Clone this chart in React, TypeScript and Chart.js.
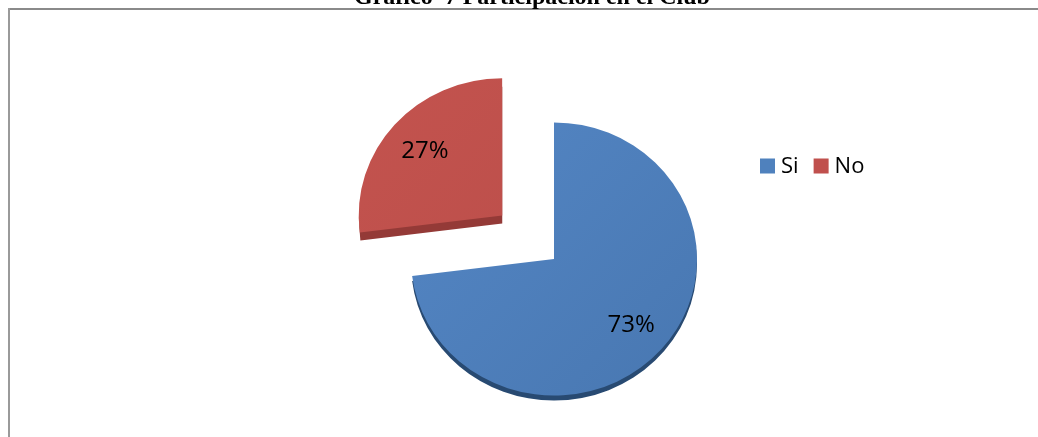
import React, { useEffect, useRef } from "react";
import { Chart, registerables } from "chart.js";

Chart.register(...registerables);

const TITLE = "Gráfico  7 Participación en el Club";
const categories = ["Si", "No"];
const values = [73, 27];
const percentLabels = ["73%", "27%"];
const sliceColors = ["#4f81bd", "#c0504d"];
const gradientLight = ["#5689c8", "#c5544f"];
const gradientDark = ["#4877b1", "#b94d49"];
const edgeColors = ["#284a72", "#943a37"];
const explodeOffsets = [0, 276];
const depths = [5, 8];

const TILT = 0.955;
const LABEL_FONT = "'Open Sans', 'Noto Sans', sans-serif";
const TITLE_FONT = "bold 24px 'Liberation Serif', 'Times New Roman', serif";

const pie3d = {
  id: "pie3d",
  beforeDraw(chart: any) {
    const ctx = chart.ctx as CanvasRenderingContext2D;
    const w = chart.width;
    const h = chart.height;
    ctx.save();
    ctx.fillStyle = "#fff";
    ctx.fillRect(0, 0, w, h);
    ctx.fillStyle = "#8a8a8a";
    ctx.fillRect(8, 8, w - 8, 2);
    ctx.fillStyle = "#9a9a9a";
    ctx.fillRect(8, 8, 2, h - 8);
    ctx.font = TITLE_FONT;
    ctx.fillStyle = "#000";
    ctx.textAlign = "left";
    ctx.textBaseline = "alphabetic";
    ctx.fillText(TITLE, 354, 4);
    ctx.restore();
  },
  beforeDatasetsDraw(chart: any) {
    const ctx = chart.ctx as CanvasRenderingContext2D;
    const meta = chart.getDatasetMeta(0);
    const first = meta.data[0];
    const cx = first.x;
    const cy = first.y;
    ctx.save();
    ctx.translate(cx, cy);
    ctx.scale(1, TILT);
    ctx.translate(-cx, -cy);
    meta.data.forEach((arc: any, i: number) => {
      const p = arc.getProps(["x", "y", "startAngle", "endAngle", "outerRadius"], true);
      const off = (arc.options.offset || 0) / 4;
      const mid = (p.startAngle + p.endAngle) / 2;
      const dx = Math.cos(mid) * off;
      const dy = Math.sin(mid) * off + depths[i] / TILT;
      ctx.beginPath();
      ctx.moveTo(p.x + dx, p.y + dy);
      ctx.arc(p.x + dx, p.y + dy, p.outerRadius, p.startAngle, p.endAngle);
      ctx.closePath();
      ctx.fillStyle = edgeColors[i];
      ctx.fill();
    });
  },
  afterDatasetsDraw(chart: any) {
    const ctx = chart.ctx as CanvasRenderingContext2D;
    ctx.restore();
    const meta = chart.getDatasetMeta(0);
    ctx.save();
    ctx.font = `24px ${LABEL_FONT}`;
    ctx.fillStyle = "#000";
    ctx.textAlign = "center";
    ctx.textBaseline = "middle";
    const cy0 = meta.data[0].y;
    meta.data.forEach((arc: any, i: number) => {
      const p = arc.getProps(["x", "y", "startAngle", "endAngle", "outerRadius"], true);
      const off = (arc.options.offset || 0) / 4;
      const mid = (p.startAngle + p.endAngle) / 2;
      const r = off + p.outerRadius * 0.72;
      const lx = p.x + Math.cos(mid) * r;
      const ly = cy0 + (p.y - cy0 + Math.sin(mid) * r) * TILT;
      ctx.fillText(percentLabels[i], lx, ly + 1);
    });
    ctx.restore();
  },
  afterDraw(chart: any) {
    const ctx = chart.ctx as CanvasRenderingContext2D;
    ctx.save();
    ctx.font = `22px ${LABEL_FONT}`;
    ctx.textBaseline = "middle";
    ctx.textAlign = "left";
    let x = 760;
    const y = 166;
    const box = 15;
    categories.forEach((c, i) => {
      ctx.fillStyle = sliceColors[i];
      ctx.fillRect(x, y - box / 2, box, box);
      x += box + 6;
      ctx.fillStyle = "#000";
      ctx.fillText(c, x, y + 1);
      x += ctx.measureText(c).width + 15;
    });
    ctx.restore();
  },
};

export default function App() {
  const ref = useRef<HTMLCanvasElement | null>(null);
  useEffect(() => {
    if (!ref.current) return;
    const chart = new Chart(ref.current, {
      type: "pie",
      data: {
        labels: categories,
        datasets: [
          {
            data: values,
            backgroundColor: (c: any) => {
              const { ctx, chartArea } = c.chart;
              const i = c.dataIndex ?? 0;
              if (!chartArea) return sliceColors[i];
              const g = ctx.createLinearGradient(350, 80, 700, 400);
              g.addColorStop(0, gradientLight[i]);
              g.addColorStop(1, gradientDark[i]);
              return g;
            },
            borderWidth: 0,
            offset: explodeOffsets,
            radius: 143,
            clip: false,
          } as any,
        ],
      },
      options: {
        animation: false,
        responsive: false,
        maintainAspectRatio: false,
        layout: { padding: { left: 70, right: 0, top: 81, bottom: 0 } },
        plugins: {
          legend: { display: false },
          title: { display: false },
          tooltip: { enabled: false },
        },
      },
      plugins: [pie3d],
    });
    return () => chart.destroy();
  }, []);

  return (
    <div style={{ position: "fixed", left: 0, top: 0, width: 1038, height: 437, overflow: "hidden", background: "#fff" }}>
      <canvas ref={ref} width={1038} height={437} style={{ width: 1038, height: 437, display: "block" }} />
    </div>
  );
}
